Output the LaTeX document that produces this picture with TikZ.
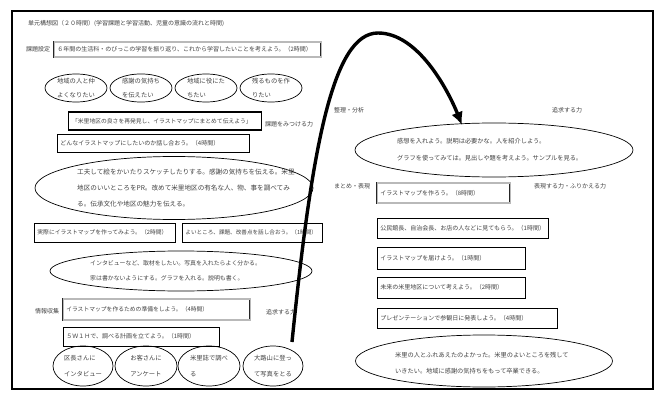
\documentclass[tikz,border=0pt]{standalone}
\usepackage{fontspec}
\setmainfont{Noto Sans CJK JP}
\usetikzlibrary{shapes.geometric,arrows.meta}
\begin{document}
\begin{tikzpicture}[x=1pt,y=-1pt,
  lbl/.style={font=\fontsize{6}{8}\selectfont, text=black!75, inner sep=0pt, anchor=west},
  tbox/.style={draw=black, line width=0.8pt, font=\fontsize{6}{8}\selectfont, text=black!75, inner xsep=3pt, inner ysep=0pt, align=left, anchor=west},
  gbox/.style={tbox, draw=black!85, line width=0.5pt, double=gray!55, double distance=1.1pt},
  ell/.style={draw, ellipse, line width=0.7pt, inner sep=0pt, align=left, text=black!75},
  etxt/.style={inner sep=0pt, align=left, text=black!75, anchor=west},
  bigarrow/.style={line width=3.4pt, -{Latex[length=13pt,width=12pt]}}
]
\useasboundingbox (0,0) rectangle (661,401);
\node[draw, line width=1.5pt, minimum width=641pt, minimum height=378pt, inner sep=0pt] (frame) at (332.5,200) {};

% left column
\node[lbl] (title) at (28,24) {単元構想図（２０時間）(学習課題と学習活動、児童の意識の流れと時間)};
\node[lbl] (kadai) at (26,49.5) {課題設定};
\node[gbox, minimum width=267pt, minimum height=15pt, text width=261pt] (b1) at (54,49.5) {６年間の生活科・のびっこの学習を振り返り、これから学習したいことを考えよう。（2時間）};

\node[ell, minimum width=62pt, minimum height=28pt, font=\fontsize{6.3}{14}\selectfont] (e1) at (76,88) {地域の人と仲\\よくなりたい};
\node[ell, minimum width=62pt, minimum height=28pt, font=\fontsize{6.3}{14}\selectfont] (e2) at (141,88) {感謝の気持ち\\を伝えたい};
\node[ell, minimum width=62pt, minimum height=28pt, font=\fontsize{6.3}{14}\selectfont] (e3) at (206,88) {地域に役にた\\ちたい};
\node[ell, minimum width=62pt, minimum height=28pt, font=\fontsize{6.3}{14}\selectfont] (e4) at (271,88) {残るものを作\\りたい};

\node[tbox, line width=1.2pt, minimum width=193pt, minimum height=18pt, text width=186pt, inner xsep=3.5pt, font=\fontsize{5.8}{8}\selectfont] (b2) at (68,121) {「米里地区の良さを再発見し、イラストマップにまとめて伝えよう」};
\node[lbl] (mitsukeru) at (265,124) {課題をみつける力};
\node[tbox, minimum width=192pt, minimum height=18pt, text width=186pt] (b3) at (57,143) {どんなイラストマップにしたいのか話し合おう。（4時間）};

\node[ell, minimum width=278pt, minimum height=63pt] (e5) at (174,188) {};
\node[etxt, font=\fontsize{6.6}{16}\selectfont] (e5t) at (77,188) {工夫して絵をかいたりスケッチしたりする。感謝の気持ちを伝える。米里\\地区のいいところをPR。改めて米里地区の有名な人、物、事を調べてみ\\る。伝承文化や地区の魅力を伝える。};

\node[tbox, minimum width=141pt, minimum height=19pt, text width=135pt, font=\fontsize{5.8}{8}\selectfont] (b4) at (34,232.5) {実際にイラストマップを作ってみよう。（2時間）};
\node[tbox, minimum width=140pt, minimum height=19pt, text width=134pt, font=\fontsize{5.6}{8}\selectfont] (b5) at (182,232.5) {よいところ、課題、改善点を話し合おう。（1時間）};

\node[ell, minimum width=262pt, minimum height=40pt] (e6) at (181,271) {};
\node[etxt, font=\fontsize{5.9}{15.5}\selectfont] (e6t) at (90,271) {インタビューなど、取材をしたい。写真を入れたらよく分かる。\\家は書かないようにする。グラフを入れる。説明も書く。};

\node[lbl] (joho) at (35,311) {情報収集};
\node[gbox, minimum width=187pt, minimum height=21pt, text width=181pt, font=\fontsize{5.8}{8}\selectfont] (b6) at (63,309.5) {イラストマップを作るための準備をしよう。（4時間）};
\node[lbl] (tsuikyu1) at (266,312) {追求する力};
\node[tbox, minimum width=156pt, minimum height=19pt, text width=150pt] (b7) at (63,336.5) {５Ｗ１Ｈで、調べる計画を立てよう。（1時間）};

\node[ell, minimum width=60pt, minimum height=40pt, font=\fontsize{6.3}{16}\selectfont] (e7) at (83,366) {区長さんに\\インタビュー};
\node[ell, minimum width=62pt, minimum height=40pt, font=\fontsize{6.3}{16}\selectfont] (e8) at (146,366) {お客さんに\\アンケート};
\node[ell, minimum width=62pt, minimum height=40pt, font=\fontsize{6.3}{16}\selectfont] (e9) at (209,366) {米里誌で調べ\\る};
\node[ell, minimum width=60pt, minimum height=40pt, font=\fontsize{6.3}{16}\selectfont] (e10) at (273,366) {大路山に登っ\\て写真をとる};

% right column
\node[lbl] (seiri) at (334,110) {整理・分析};
\node[lbl] (tsuikyu2) at (552,110) {追求する力};
\node[ell, minimum width=278pt, minimum height=54pt] (e11) at (494,150) {};
\node[etxt, font=\fontsize{6.2}{17}\selectfont] (e11t) at (397,150) {感想を入れよう。説明は必要かな。人を紹介しよう。\\グラフを使ってみては。見出しや題を考えよう。サンプルを見る。};

\node[lbl] (matome) at (334,186) {まとめ・表現};
\node[gbox, minimum width=133pt, minimum height=20pt, text width=127pt] (b8) at (377,193) {イラストマップを作ろう。（8時間）};
\node[lbl] (hyogen) at (534,186) {表現する力・ふりかえる力};
\node[tbox, minimum width=171pt, minimum height=20pt, text width=165pt] (b9) at (377,228) {公民館長、自治会長、お店の人などに見てもらう。（1時間）};
\node[tbox, minimum width=148pt, minimum height=22pt, text width=142pt] (b10) at (377,258) {イラストマップを届けよう。（1時間）};
\node[tbox, minimum width=148pt, minimum height=21pt, text width=142pt] (b11) at (377,287.5) {未来の米里地区について考えよう。（2時間）};
\node[tbox, minimum width=180pt, minimum height=20pt, text width=174pt] (b12) at (377,318) {プレゼンテーションで参観日に発表しよう。（4時間）};

\node[ell, minimum width=257pt, minimum height=52pt] (e12) at (484,361) {};
\node[etxt, font=\fontsize{6.2}{16}\selectfont] (e12t) at (395,363) {米里の人とふれあえたのよかった。米里のよいところを残して\\いきたい。地域に感謝の気持ちをもって卒業できる。};

% big arrow
\coordinate (ast) at (292,342);
\coordinate (apeak) at (378,33);
\coordinate (atip) at (462,125);
\draw[bigarrow] (ast) .. controls (312,145) and (333,33) .. (apeak) .. controls (418,33) and (448,90) .. (atip);
\end{tikzpicture}
\end{document}
